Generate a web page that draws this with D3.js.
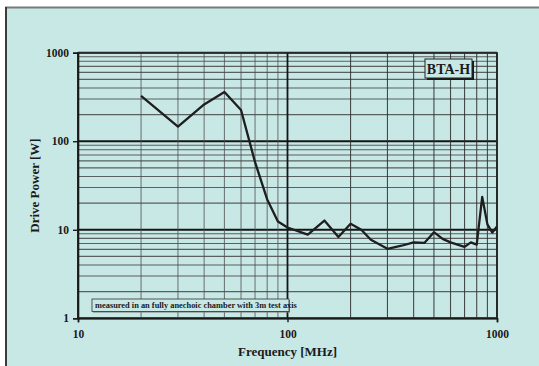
<!DOCTYPE html>
<html>
<head>
<meta charset="utf-8">
<script src="https://cdn.jsdelivr.net/npm/d3@7/dist/d3.min.js"></script>
<style>
  html, body { margin: 0; padding: 0; background: #ffffff; }
  svg { display: block; }
  text { font-family: "Liberation Serif", "Times New Roman", serif; font-weight: bold; fill: #1a1a1a; }
</style>
</head>
<body>
<svg id="chart" width="539" height="366"></svg>
<script>
// Drive power needed for the BTA-H antenna, 20 MHz – 1 GHz
const frequencies = [20, 30, 40, 50, 60, 70, 80, 90, 100, 125, 150, 175, 200, 225, 250, 300,
                     350, 400, 450, 500, 550, 600, 700, 750, 800, 850, 900, 950, 1000];
const drivePower  = [325, 146, 260, 360, 225, 58, 22, 12.4, 10.6, 8.8, 12.7, 8.3, 11.7, 10.0, 7.7, 6.1,
                     6.6, 7.2, 7.1, 9.4, 7.9, 7.2, 6.4, 7.2, 6.8, 23.5, 11.5, 9.3, 10.9];
const xTicks = [10, 100, 1000];
const yTicks = [1, 10, 100, 1000];
const xTitle = "Frequency [MHz]";
const yTitle = "Drive Power [W]";
const antennaLabel = "BTA-H";
const noteText = "measured in an fully anechoic chamber with 3m test axis";

const svg = d3.select("#chart");
const W = 539, H = 366;
const bg = "#c8e8e6";

// page panel with its frame
svg.append("rect").attr("x", 6).attr("y", 7).attr("width", W - 6).attr("height", H - 7).attr("fill", bg);
svg.append("line").attr("x1", 5).attr("x2", W).attr("y1", 7.5).attr("y2", 7.5)
  .attr("stroke", "#7a7a7a").attr("stroke-width", 2);
svg.append("line").attr("x1", 6).attr("x2", 6).attr("y1", 7).attr("y2", H)
  .attr("stroke", "#3c3c3c").attr("stroke-width", 2);

const plot = { left: 78, right: 497, top: 52.7, bottom: 318.3 };
const x = d3.scaleLog().domain([10, 1000]).range([plot.left, plot.right]);
const y = d3.scaleLog().domain([1, 1000]).range([plot.bottom, plot.top]);

const g = svg.append("g");

// grid: every 1..9 step inside each decade
const xGrid = x.ticks(); // 10,20,...,1000
const yGrid = y.ticks();
const isDecade = v => Math.abs(Math.log10(v) - Math.round(Math.log10(v))) < 1e-9;

g.append("g").selectAll("line").data(yGrid).join("line")
  .attr("x1", plot.left).attr("x2", plot.right)
  .attr("y1", d => y(d)).attr("y2", d => y(d))
  .attr("stroke", d => isDecade(d) ? "#151515" : "#3d3d3d")
  .attr("stroke-opacity", d => isDecade(d) ? 1 : 0.8)
  .attr("stroke-width", d => isDecade(d) ? 2 : 1.1);

g.append("g").selectAll("line").data(xGrid).join("line")
  .attr("y1", plot.top).attr("y2", plot.bottom)
  .attr("x1", d => x(d)).attr("x2", d => x(d))
  .attr("stroke", d => isDecade(d) ? "#151515" : (d < 100 ? "#4a4a4a" : "#2e2e2e"))
  .attr("stroke-opacity", d => isDecade(d) ? 1 : (d < 100 ? 0.7 : 0.85))
  .attr("stroke-width", d => isDecade(d) ? 1.8 : 1.1);

// plot frame
g.append("rect").attr("x", plot.left).attr("y", plot.top)
  .attr("width", plot.right - plot.left).attr("height", plot.bottom - plot.top)
  .attr("fill", "none").attr("stroke", "#2a2a2a").attr("stroke-width", 1.4);

// axes
const fmt = d3.format("d");
const xAxis = d3.axisBottom(x).tickValues(xTicks).tickFormat(fmt).tickSize(4).tickPadding(8);
const yAxis = d3.axisLeft(y).tickValues(yTicks).tickFormat(fmt).tickSize(5).tickPadding(4);

const gx = svg.append("g").attr("transform", `translate(0,${plot.bottom})`).call(xAxis);
const gy = svg.append("g").attr("transform", `translate(${plot.left},0)`).call(yAxis);
[gx, gy].forEach(a => {
  a.select(".domain").attr("stroke", "#1a1a1a").attr("stroke-width", 1.6);
  a.selectAll(".tick line").attr("stroke", "#1a1a1a").attr("stroke-width", 1.4);
  a.selectAll(".tick text").attr("font-family", "Liberation Serif, serif")
    .attr("font-weight", "bold").attr("font-size", 11.5).attr("fill", "#1a1a1a");
});

// data curve
const line = d3.line().x((d, i) => x(frequencies[i])).y(d => y(d));
svg.append("path").datum(drivePower)
  .attr("d", line).attr("fill", "none")
  .attr("stroke", "#1e1e1e").attr("stroke-width", 2.3)
  .attr("stroke-linejoin", "round");

// axis titles
svg.append("text").attr("x", (plot.left + plot.right) / 2).attr("y", 356)
  .attr("text-anchor", "middle").attr("font-size", 13).text(xTitle);
svg.append("text").attr("transform", `translate(39,${(plot.top + plot.bottom) / 2}) rotate(-90)`)
  .attr("text-anchor", "middle").attr("font-size", 13).text(yTitle);

// antenna label with drop shadow
const lb = { x: 425, y: 59, w: 47, h: 19 };
svg.append("rect").attr("x", lb.x + 2).attr("y", lb.y + 2).attr("width", lb.w).attr("height", lb.h)
  .attr("fill", "#1a1a1a");
svg.append("rect").attr("x", lb.x).attr("y", lb.y).attr("width", lb.w).attr("height", lb.h)
  .attr("fill", bg).attr("stroke", "#222").attr("stroke-width", 1);
svg.append("text").attr("x", lb.x + lb.w / 2).attr("y", lb.y + 14.5)
  .attr("text-anchor", "middle").attr("font-size", 14).text(antennaLabel);

// measurement note
const nb = { x: 92, y: 299, w: 197, h: 12.5 };
svg.append("rect").attr("x", nb.x + 1).attr("y", nb.y + 1).attr("width", nb.w).attr("height", nb.h)
  .attr("fill", "#777");
svg.append("rect").attr("x", nb.x).attr("y", nb.y).attr("width", nb.w).attr("height", nb.h)
  .attr("fill", bg).attr("stroke", "#333").attr("stroke-width", 0.8);
svg.append("text").attr("x", nb.x + 3).attr("y", nb.y + 9.3)
  .attr("font-size", 8.4).text(noteText);
</script>
</body>
</html>
